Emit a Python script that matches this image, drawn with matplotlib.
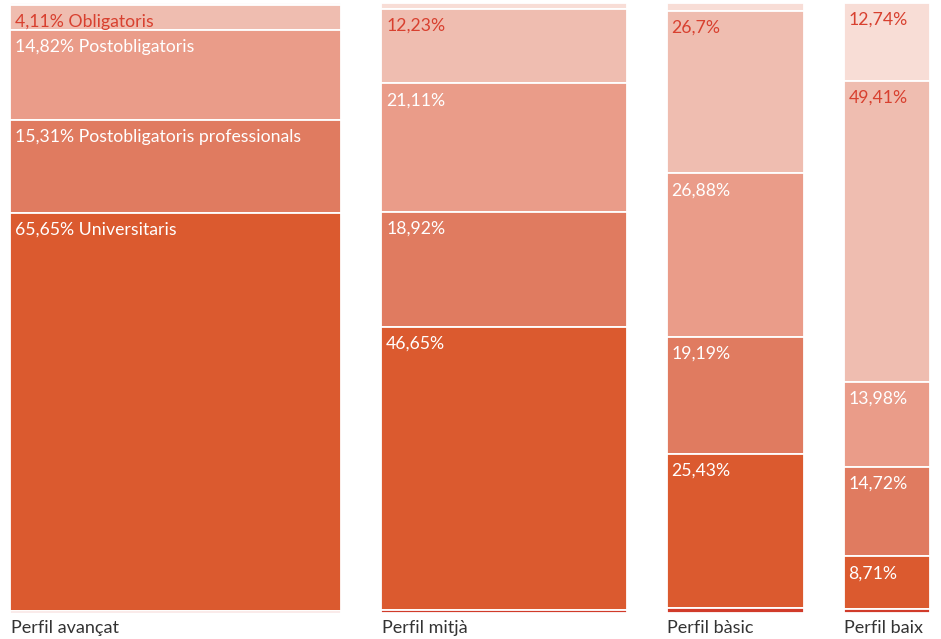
import matplotlib
matplotlib.use("Agg")
import matplotlib.pyplot as plt

# ---- data ----
profiles = ["Perfil avançat", "Perfil mitjà", "Perfil bàsic", "Perfil baix"]
profile_widths = [41.4, 30.7, 17.1, 10.8]

levels = ["Sense estudis", "Obligatoris", "Postobligatoris",
          "Postobligatoris professionals", "Universitaris", "Altres"]
sense_estudis = [0.3, 1.0, 1.25, 12.74]
obligatoris = [4.11, 12.23, 26.7, 49.41]
postobligatoris = [14.82, 21.11, 26.88, 13.98]
postobligatoris_prof = [15.31, 18.92, 19.19, 14.72]
universitaris = [65.65, 46.65, 25.43, 8.71]
altres = [0.3, 0.45, 0.75, 0.6]
series = [sense_estudis, obligatoris, postobligatoris,
          postobligatoris_prof, universitaris, altres]
show_names = [True, False, False, False]

# ---- style ----
colors = ["#f8ddd6", "#efbdb0", "#ea9c89", "#e07b60", "#db5a2f", "#d13b2a"]
text_colors = ["#d8402f", "#d8402f", "white", "white", "white", "white"]
gap = 5.0
font = ["Lato", "DejaVu Sans"]

fig = plt.figure(figsize=(9.41, 6.39), dpi=100)
W, H = 941, 639
ax = fig.add_axes([10 / W, (H - 613) / H, 920 / W, 610 / H])

x_left = []
pos = 0.0
for w in profile_widths:
    x_left.append(pos)
    pos += w + gap
total_x = pos - gap

for j, (name, w, x0) in enumerate(zip(profiles, profile_widths, x_left)):
    col_total = sum(s[j] for s in series)
    top = 100.0
    for i, s in enumerate(series):
        h = s[j] / col_total * 100.0
        bottom = top - h
        ax.bar(x0, h, width=w, bottom=bottom, align="edge",
               color=colors[i], edgecolor="white", linewidth=1.3)
        if s[j] >= 2:
            txt = f"{s[j]:g}".replace(".", ",") + "%"
            if show_names[j]:
                txt += " " + levels[i]
            ax.annotate(txt, xy=(x0, top), xytext=(3.5, -6.5),
                        textcoords="offset points", ha="left", va="top",
                        fontsize=12.7, color=text_colors[i], family=font)
        top = bottom
    ax.annotate(name, xy=(x0, 0), xytext=(0.5, -5), textcoords="offset points",
                ha="left", va="top", fontsize=13, color="#333333",
                family=font, annotation_clip=False)

ax.set_xlim(0, total_x)
ax.set_ylim(0, 100)
ax.axis("off")

fig.savefig("out.png", dpi=100)
